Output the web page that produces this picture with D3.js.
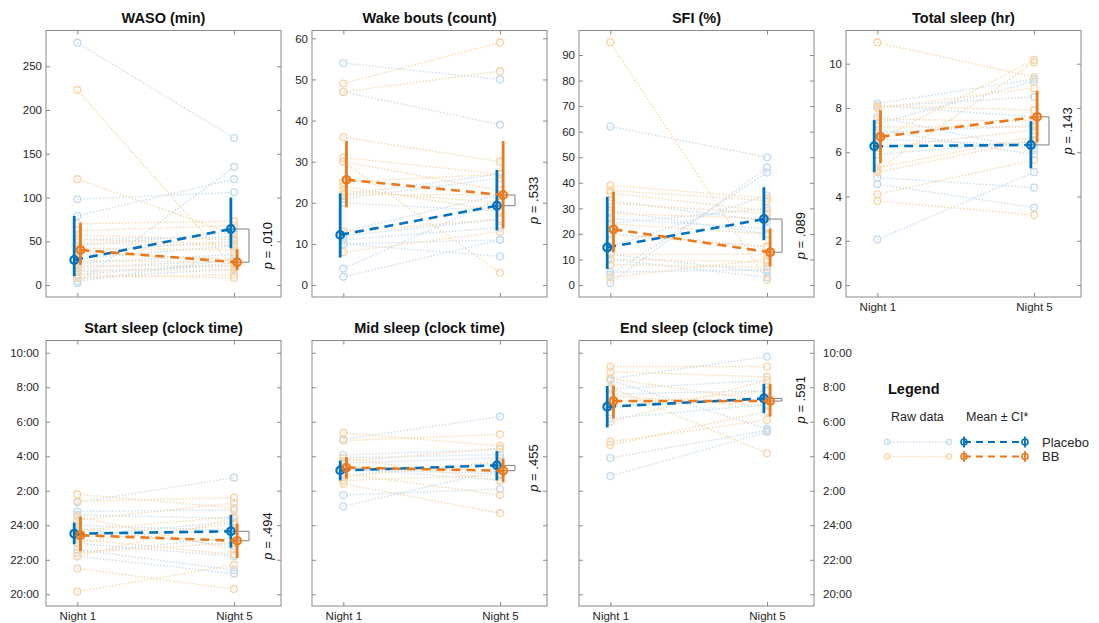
<!DOCTYPE html>
<html>
<head>
<meta charset="utf-8">
<script src="https://cdn.jsdelivr.net/npm/d3@7"></script>
<style>
body { margin: 0; background: #fff; }
svg text { font-family: "Liberation Sans", Arial, Helvetica, sans-serif; }
</style>
</head>
<body>
<svg id="chart" width="1099" height="623"></svg>
<script>
var nights = ["Night 1", "Night 5"];
var clockTicks = [20, 22, 24, 26, 28, 30, 32, 34];
var clockLabels = ["20:00", "22:00", "24:00", "2:00", "4:00", "6:00", "8:00", "10:00"];

// raw data: [night 1, night 5] per participant
var wasoPlacebo = [[277, 168], [98, 106], [79, 121], [2, 135], [4, 30], [45, 60], [38, 50], [30, 45], [25, 35], [20, 28], [15, 22], [12, 25], [8, 18], [52, 55]];
var wasoBB = [[223, 20], [121, 58], [70, 73], [62, 68], [57, 52], [52, 47], [48, 45], [42, 40], [36, 30], [28, 26], [22, 22], [17, 17], [12, 8], [8, 12]];
var wakePlacebo = [[54, 50], [47, 39], [22, 27], [20, 18], [13, 22], [12, 16], [10, 11], [10, 7], [4, 21], [2, 11], [11, 14], [21, 26]];
var wakeBB = [[49, 59], [47, 52], [36, 30], [31, 27], [30, 3], [25, 27], [23, 20], [22, 22], [13, 16], [8, 13], [30, 23], [24, 18]];
var sfiPlacebo = [[62, 50], [0.7, 46], [4, 44], [5, 6], [15, 35], [24, 30], [29, 20], [33, 25], [12, 5], [20, 15], [26, 22], [10, 3]];
var sfiBB = [[95, 2], [39, 34], [37, 33], [36, 29], [32, 28], [28, 26], [24, 20], [20, 15], [12, 12], [10, 9], [8, 7], [3, 10]];
var totalPlacebo = [[2.06, 5.1], [4.56, 3.5], [4.86, 4.4], [8.2, 9.3], [8.06, 8.5], [7.6, 6.1], [6.9, 7.2], [6.6, 6.3], [8.1, 7.6], [7.3, 9.2], [5.9, 6.5], [7.0, 5.9]];
var totalBB = [[10.96, 9.4], [8.1, 7.9], [7.15, 7.15], [6.55, 10.17], [5.2, 10.06], [5.1, 6.55], [4.1, 5.65], [3.8, 3.16], [7.5, 7.4], [8.0, 8.9], [6.2, 7.0], [5.3, 6.7]];
var startPlacebo = [[25.33, 26.76], [24.8, 24.9], [24.6, 24.4], [22.95, 22.2], [22.6, 21.4], [22.2, 21.2], [24.0, 23.7], [23.4, 24.2], [23.8, 22.8], [22.4, 23.3]];
var startBB = [[25.8, 25.0], [25.4, 25.6], [24.3, 25.3], [23.7, 24.5], [23.0, 24.1], [22.4, 23.0], [21.5, 20.3], [20.15, 21.7], [24.5, 22.6], [23.2, 22.3], [22.2, 24.4]];
var midPlacebo = [[28.98, 30.3], [28.07, 28.4], [25.75, 26.1], [25.1, 27.2], [27.6, 27.9], [27.3, 26.6], [26.9, 27.6], [27.9, 28.1], [27.2, 27.0]];
var midBB = [[29.36, 28.6], [28.9, 29.27], [27.7, 28.45], [27.0, 25.75], [26.4, 24.7], [27.4, 27.2], [26.8, 27.7], [27.9, 26.6], [26.6, 26.9]];
var endPlacebo = [[32.5, 33.77], [27.9, 29.5], [26.85, 29.4], [30.87, 31.3], [31.6, 31.8], [32.4, 29.6], [30.2, 31.0], [31.9, 32.4]];
var endBB = [[33.2, 33.2], [32.9, 32.6], [30.0, 32.4], [28.84, 30.1], [28.65, 30.6], [32.0, 28.17], [30.9, 31.8], [31.5, 30.9], [32.5, 31.2]];

// mean, CI low, CI high: placebo N1, placebo N5, BB N1, BB N5
var wasoStats = [[28.6, 10, 79], [64, 42, 100], [40, 23, 71], [26, 17, 41]];
var wakeStats = [[12.2, 6.7, 22.3], [19.3, 13.3, 28], [25.6, 18.9, 35], [21.9, 13.8, 35]];
var sfiStats = [[14.7, 6.3, 34.5], [25.8, 17.5, 38.3], [21.8, 12.8, 36.5], [12.8, 7.3, 22.1]];
var totalStats = [[6.27, 5.1, 7.45], [6.33, 5.27, 7.4], [6.7, 5.5, 7.9], [7.6, 6.45, 8.77]];
var startStats = [[23.51, 22.9, 24.15], [23.65, 22.7, 24.6], [23.42, 22.5, 24.5], [23.1, 22.1, 24.1]];
var midStats = [[27.18, 26.6, 27.75], [27.47, 26.6, 28.3], [27.34, 26.7, 27.95], [27.16, 26.5, 27.85]];
var endStats = [[30.87, 29.67, 32.07], [31.35, 30.5, 32.2], [31.2, 30.2, 32.1], [31.2, 30.3, 32.2]];

var pValues = [".010", ".533", ".089", ".143", ".494", ".455", ".591"];

var blue = "#0072BD", orange = "#EC7A1C";
var blueLight = "#c6dcee", orangeLight = "#f8d6aa";
var boxColor = "#8a8a8a", textColor = "#262626";

var svg = d3.select("#chart");

var panels = [
    { title: "WASO (min)", placebo: wasoPlacebo, bb: wasoBB, stats: wasoStats, domain: [-13.7, 290.9], ticks: [0, 50, 100, 150, 200, 250], left: 46, row: 0, yLabels: "left", xLabels: false },
    { title: "Wake bouts (count)", placebo: wakePlacebo, bb: wakeBB, stats: wakeStats, domain: [-2.9, 61.9], ticks: [0, 10, 20, 30, 40, 50, 60], left: 312, row: 0, yLabels: "left", xLabels: false },
    { title: "SFI (%)", placebo: sfiPlacebo, bb: sfiBB, stats: sfiStats, domain: [-4.7, 99.6], ticks: [0, 10, 20, 30, 40, 50, 60, 70, 80, 90], left: 579, row: 0, yLabels: "left", xLabels: false },
    { title: "Total sleep (hr)", placebo: totalPlacebo, bb: totalBB, stats: totalStats, domain: [-0.54, 11.5], ticks: [0, 2, 4, 6, 8, 10], left: 846, row: 0, yLabels: "left", xLabels: true },
    { title: "Start sleep (clock time)", placebo: startPlacebo, bb: startBB, stats: startStats, domain: [19.32, 34.71], ticks: clockTicks, left: 46, row: 1, yLabels: "left", xLabels: true, clock: true },
    { title: "Mid sleep (clock time)", placebo: midPlacebo, bb: midBB, stats: midStats, domain: [19.32, 34.71], ticks: clockTicks, left: 312, row: 1, yLabels: "none", xLabels: true, clock: true },
    { title: "End sleep (clock time)", placebo: endPlacebo, bb: endBB, stats: endStats, domain: [19.32, 34.71], ticks: clockTicks, left: 579, row: 1, yLabels: "right", xLabels: true, clock: true }
];

var rows = [{ top: 30.5, bottom: 297 }, { top: 340.5, bottom: 606 }];
var panelWidth = 235;
var offset = 0.02;

function clockFormat(v) {
    return clockLabels[clockTicks.indexOf(v)];
}

panels.forEach(function (p, i) {
    var top = rows[p.row].top, bottom = rows[p.row].bottom;
    var x = d3.scaleLinear().domain([0.8, 2.3]).range([p.left, p.left + panelWidth]);
    var y = d3.scaleLinear().domain(p.domain).range([bottom, top]);
    var g = svg.append("g");
    var fmt = p.clock ? clockFormat : d3.format("d");

    // title
    g.append("text")
        .attr("x", p.left + panelWidth / 2)
        .attr("y", top - 8)
        .attr("text-anchor", "middle")
        .attr("font-size", "14.5px")
        .attr("font-weight", "bold")
        .attr("fill", "#111")
        .text(p.title);

    // axes, ticks pointing inwards
    var left = g.append("g").attr("transform", "translate(" + p.left + ",0)")
        .call(d3.axisLeft(y).tickValues(p.ticks).tickSize(-4).tickPadding(p.row ? 7 : 4)
            .tickFormat(p.yLabels == "left" ? fmt : ""));
    var right = g.append("g").attr("transform", "translate(" + (p.left + panelWidth) + ",0)")
        .call(d3.axisRight(y).tickValues(p.ticks).tickSize(-4).tickPadding(9)
            .tickFormat(p.yLabels == "right" ? fmt : ""));
    var bot = g.append("g").attr("transform", "translate(0," + bottom + ")")
        .call(d3.axisBottom(x).tickValues([1, 2]).tickSize(-4).tickPadding(6)
            .tickFormat(function (d) { return p.xLabels ? nights[d - 1] : ""; }));
    var topAx = g.append("g").attr("transform", "translate(0," + top + ")")
        .call(d3.axisTop(x).tickValues([1, 2]).tickSize(-4).tickFormat(""));

    [left, right, bot, topAx].forEach(function (a) {
        a.select(".domain").remove();
        a.selectAll(".tick line").attr("stroke", boxColor);
        a.selectAll(".tick text").attr("fill", textColor).attr("font-size", "11.5px")
            .attr("font-family", "'Liberation Sans', Arial, sans-serif");
    });

    g.append("rect")
        .attr("x", p.left).attr("y", top)
        .attr("width", panelWidth).attr("height", bottom - top)
        .attr("fill", "none").attr("stroke", boxColor).attr("stroke-width", 1);

    // raw data
    [[p.placebo, blueLight], [p.bb, orangeLight]].forEach(function (set) {
        var rg = g.append("g");
        set[0].forEach(function (d) {
            rg.append("line")
                .attr("x1", x(1)).attr("y1", y(d[0]))
                .attr("x2", x(2)).attr("y2", y(d[1]))
                .attr("stroke", set[1]).attr("stroke-width", 1.4)
                .attr("stroke-dasharray", "1.4,1.8");
            d.forEach(function (v, k) {
                rg.append("circle")
                    .attr("cx", x(k + 1)).attr("cy", y(v)).attr("r", 3.4)
                    .attr("fill", "none").attr("stroke", set[1]).attr("stroke-width", 1.4);
            });
        });
    });

    // bracket between night 5 means
    var sP = p.stats[1], sB = p.stats[3];
    var bx = x(2) + 15;
    g.append("path")
        .attr("d", "M" + x(2 - offset) + "," + y(sP[0]) + "H" + bx + "V" + y(sB[0]) + "H" + x(2 + offset))
        .attr("fill", "none").attr("stroke", "#7f7f7f").attr("stroke-width", 1);

    // means with CI
    [[p.stats.slice(0, 2), blue, -offset], [p.stats.slice(2, 4), orange, offset]].forEach(function (set) {
        var st = set[0], col = set[1], off = set[2];
        g.append("line")
            .attr("x1", x(1 + off)).attr("y1", y(st[0][0]))
            .attr("x2", x(2 + off)).attr("y2", y(st[1][0]))
            .attr("stroke", col).attr("stroke-width", 2.6)
            .attr("stroke-dasharray", "9,6");
        st.forEach(function (s, k) {
            g.append("line")
                .attr("x1", x(k + 1 + off)).attr("x2", x(k + 1 + off))
                .attr("y1", y(s[1])).attr("y2", y(s[2]))
                .attr("stroke", col).attr("stroke-width", 2.8);
            g.append("circle")
                .attr("cx", x(k + 1 + off)).attr("cy", y(s[0])).attr("r", 3.8)
                .attr("fill", "none").attr("stroke", col).attr("stroke-width", 2.2);
        });
    });

    // p value
    var midY = (y(sP[0]) + y(sB[0])) / 2;
    var pt = g.append("text")
        .attr("transform", "translate(" + (x(2) + 33) + "," + midY + ") rotate(-90)")
        .attr("text-anchor", "middle")
        .attr("dominant-baseline", "central")
        .attr("font-size", "13px")
        .attr("fill", "#111");
    pt.append("tspan").attr("font-style", "italic").text("p");
    pt.append("tspan").text(" = " + pValues[i]);
});

// legend
var lg = svg.append("g");
lg.append("text").attr("x", 888).attr("y", 394)
    .attr("font-size", "14.5px").attr("font-weight", "bold").attr("fill", "#111").text("Legend");
lg.append("text").attr("x", 891).attr("y", 421)
    .attr("font-size", "12.5px").attr("fill", textColor).text("Raw data");
lg.append("text").attr("x", 966).attr("y", 421)
    .attr("font-size", "12.5px").attr("fill", textColor).text("Mean \u00b1 CI*");

var legendRows = [
    { name: "Placebo", light: blueLight, dark: blue, y: 442 },
    { name: "BB", light: orangeLight, dark: orange, y: 456.5 }
];
legendRows.forEach(function (r) {
    lg.append("line").attr("x1", 887).attr("x2", 949).attr("y1", r.y).attr("y2", r.y)
        .attr("stroke", r.light).attr("stroke-width", 1.4).attr("stroke-dasharray", "1.4,1.8");
    [887, 949].forEach(function (cx) {
        lg.append("circle").attr("cx", cx).attr("cy", r.y).attr("r", 2.6)
            .attr("fill", "none").attr("stroke", r.light).attr("stroke-width", 1.3);
    });
    lg.append("line").attr("x1", 964).attr("x2", 1025).attr("y1", r.y).attr("y2", r.y)
        .attr("stroke", r.dark).attr("stroke-width", 2.2).attr("stroke-dasharray", "7,5");
    [964, 1025].forEach(function (cx) {
        lg.append("line").attr("x1", cx).attr("x2", cx).attr("y1", r.y - 5.5).attr("y2", r.y + 5.5)
            .attr("stroke", r.dark).attr("stroke-width", 1.8);
        lg.append("circle").attr("cx", cx).attr("cy", r.y).attr("r", 3)
            .attr("fill", "none").attr("stroke", r.dark).attr("stroke-width", 1.6);
    });
    lg.append("text").attr("x", 1042).attr("y", r.y + 4.5)
        .attr("font-size", "13px").attr("fill", textColor).text(r.name);
});
</script>
</body>
</html>
